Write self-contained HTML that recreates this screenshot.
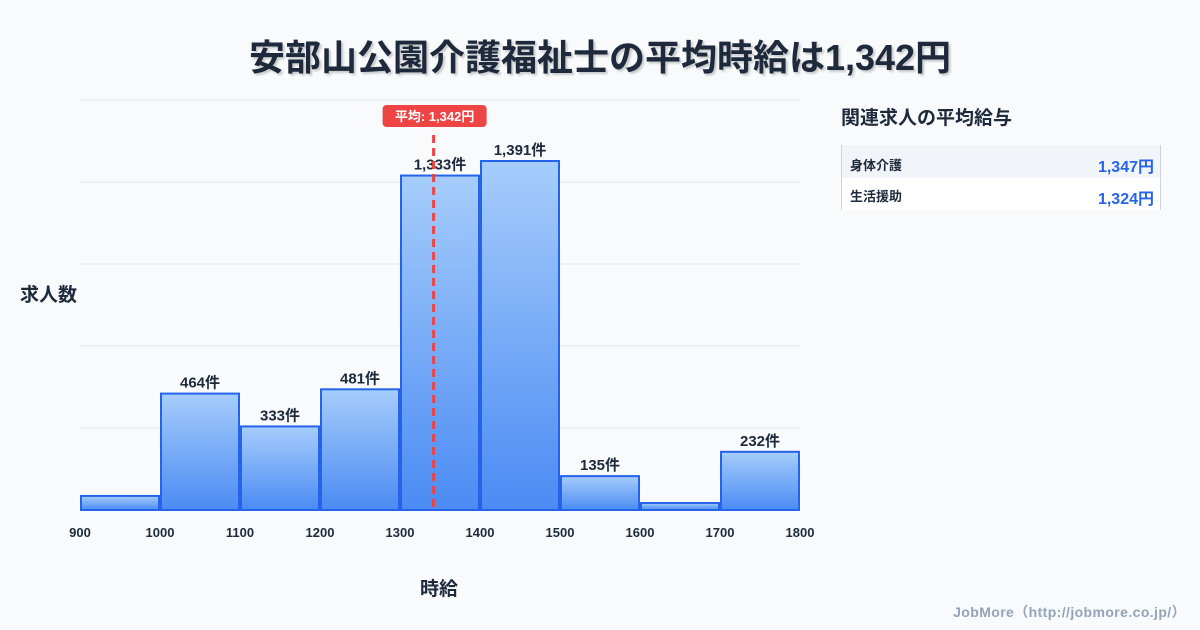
<!DOCTYPE html>
<html><head><meta charset="utf-8">
<style>
body{margin:0;width:1200px;height:630px;background:#f8fafc;font-family:"Liberation Sans","Noto Sans CJK JP",sans-serif;overflow:hidden;position:relative}
.t{position:absolute;color:#1e293b;font-weight:bold}
</style></head><body>
<div class="t" style="left:0;width:1200px;top:29px;text-align:center;font-size:36px;text-shadow:2px 2px 2px rgba(0,0,0,0.2)">安部山公園介護福祉士の平均時給は1,342円</div>
<div class="t" style="left:20px;top:280px;font-size:19px">求人数</div>
<div class="t" style="left:420px;top:574px;font-size:19px">時給</div>
<div class="t" style="left:841px;top:103px;font-size:19px">関連求人の平均給与</div>
<div style="position:absolute;left:841px;top:145px;width:318px;height:65px;border-left:1px solid #cbd5e1;border-right:1px solid #cbd5e1">
 <div style="height:33px;background:#f1f5f9;position:relative">
  <span style="position:absolute;left:8px;top:10px;font-size:13px;font-weight:bold;color:#1e293b">身体介護</span>
  <span style="position:absolute;right:6px;top:8px;font-size:16px;font-weight:bold;color:#2563eb">1,347円</span></div>
 <div style="height:32px;background:#fff;position:relative">
  <span style="position:absolute;left:8px;top:8px;font-size:13px;font-weight:bold;color:#1e293b">生活援助</span>
  <span style="position:absolute;right:6px;top:7px;font-size:16px;font-weight:bold;color:#2563eb">1,324円</span></div>
</div>
<div style="position:absolute;right:14px;top:602px;font-size:14px;font-weight:bold;color:#94a3b8;letter-spacing:0.4px">JobMore（http://jobmore.co.jp/）</div>
<svg id="c" width="1200" height="630" style="position:absolute;left:0;top:0">
<defs><linearGradient id="g" x1="0" y1="0" x2="0" y2="1"><stop offset="0" stop-color="#a6cdfb"/><stop offset="1" stop-color="#4b8bf4"/></linearGradient></defs>
</svg>
<script>
const binStarts=[900,1000,1100,1200,1300,1400,1500,1600,1700];
const counts=[56,464,333,481,1333,1391,135,28,232];
const showLabel=[false,true,true,true,true,true,true,false,true];
const xTicks=[900,1000,1100,1200,1300,1400,1500,1600,1700,1800];
const meanValue=1342;
const binWidth=100;
const NS="http://www.w3.org/2000/svg";
const svg=document.getElementById('c');
const X=v=>80+(v-900)*0.8;
const Y=v=>510-v*(349/1391);
function mk(t,a,p){const e=document.createElementNS(NS,t);for(const k in a)e.setAttribute(k,a[k]);(p||svg).appendChild(e);return e;}
for(let i=0;i<=5;i++){const y=510-i*82;
 const l=mk('line',{x1:80,x2:800,y1:y,y2:y,stroke:'#e2e8f0','stroke-width':1});
 
 }
binStarts.forEach((b,i)=>{
 const x0=X(b)+1,x1=X(b+binWidth)-1,y=Y(counts[i]);
 const r=mk('rect',{x:x0,y:y,width:x1-x0,height:510-y,fill:'url(#g)',stroke:'#2563eb','stroke-width':2});
 
 
 if(showLabel[i]){const t=mk('text',{x:(x0+x1)/2,y:y-6,'text-anchor':'middle','font-size':15,'font-weight':'bold',fill:'#1e293b'});
  t.textContent=counts[i].toLocaleString('en-US')+'件';
  
  }
});
xTicks.forEach(v=>{const t=mk('text',{x:X(v),y:537,'text-anchor':'middle','font-size':13,'font-weight':'bold',fill:'#1e293b'});
 t.textContent=v;
 
 });
const mx=X(meanValue);
const ml=mk('line',{x1:mx,x2:mx,y1:135,y2:510,stroke:'#ef4444','stroke-width':3,'stroke-dasharray':'8,5'});


const mb=mk('rect',{x:mx-51,y:105,width:104,height:22,rx:4,fill:'#ef4444'});


const mt=mk('text',{x:mx+1,y:121,'text-anchor':'middle','font-size':13,'font-weight':'bold',fill:'#fff'});
mt.textContent='平均: '+meanValue.toLocaleString('en-US')+'円';


</script>
</body></html>
